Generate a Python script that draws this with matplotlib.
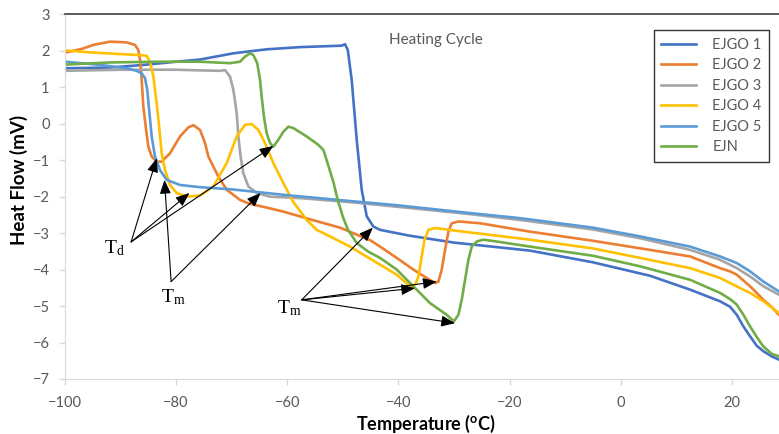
import matplotlib
matplotlib.use("Agg")
from matplotlib import pyplot as plt

plt.rcParams['font.family'] = ['Lato', 'DejaVu Sans']
plt.rcParams['mathtext.fontset'] = 'custom'
plt.rcParams['mathtext.rm'] = 'Liberation Serif'
plt.rcParams['mathtext.it'] = 'Liberation Serif:italic'
plt.rcParams['mathtext.bf'] = 'Lato:bold'

# ---- data (temperature in degC, heat flow in mV) ----
ejgo1_x = [-100, -92, -86, -80, -75.7, -69.7, -63.7, -57.7, -50.2, -49.6, -49.1, -48.4, -47.5,
           -46.6, -45.7, -44.5, -43.3, -38, -30, -16.3, -5, 5.3, 12.5, 17.9, 19.7, 20.9, 22.1,
           23.3, 24.5, 25.7, 27.2, 28.5]
ejgo1_y = [1.52, 1.54, 1.61, 1.70, 1.76, 1.93, 2.04, 2.10, 2.14, 2.18, 2.02, 1.2, -0.44,
           -1.81, -2.54, -2.82, -2.91, -3.07, -3.26, -3.48, -3.80, -4.17, -4.55, -4.87, -5.02, -5.24, -5.56,
           -5.83, -6.09, -6.24, -6.38, -6.47]

ejgo2_x = [-100, -97, -94.9, -91.9, -88.9, -87.4, -86.8, -86.4, -86.2, -85.9, -85.4, -85.0, -84.4,
           -83.5, -82.6, -81.1, -79.3, -77.8, -76.9, -75.7, -74.8, -74.2, -72.4, -70.9, -68.5, -66.7,
           -63.7, -60.7, -55, -50.5, -45, -43.3, -40.3, -37.3, -34.9, -33.4, -32.8, -32.2, -31.6,
           -31.0, -30.4, -29.2, -25.3, -16.3, -5, 5.3, 12.5, 17.9, 19.7, 20.9, 22.1, 23.3, 24.5,
           25.7, 27.2, 28.5]
ejgo2_y = [1.95, 2.05, 2.16, 2.25, 2.23, 2.16, 2.02, 1.66, 1.2, 0.47, -0.17, -0.63, -0.9,
           -1.04, -1.04, -0.81, -0.35, -0.1, -0.04, -0.17, -0.53, -0.9, -1.45, -1.81, -2.09, -2.2,
           -2.3, -2.41, -2.66, -2.85, -3.2, -3.37, -3.68, -4.0, -4.23, -4.37, -4.33, -4.0, -3.46,
           -2.96, -2.73, -2.68, -2.73, -2.96, -3.21, -3.46, -3.64, -3.96, -4.05, -4.14, -4.30, -4.46, -4.64,
           -4.83, -5.03, -5.24]

ejgo3_x = [-100, -90, -80, -75, -72.1, -71.2, -70.3, -69.7, -69.1, -68.8, -68.4, -67.9, -67.0,
           -65.5, -63.1, -57.7, -48.7, -40, -27.1, -18.1, -5, 3.5, 12.5, 17.9, 20.9, 23.3, 25.7, 28.5]
ejgo3_y = [1.45, 1.48, 1.48, 1.46, 1.45, 1.47, 1.29, 0.93, 0.29, -0.35, -0.9, -1.36, -1.72,
           -1.9, -2.0, -2.04, -2.15, -2.28, -2.48, -2.64, -2.90, -3.14, -3.46, -3.73, -3.96, -4.19, -4.46, -4.69]

ejgo4_x = [-100, -94.9, -88.9, -86.2, -85.3, -84.7, -84.1, -83.5, -83.0, -82.6, -82.0, -81.1,
           -79.9, -78.1, -75.7, -73.3, -70.9, -69.1, -67.6, -66.4, -65.2, -64.0, -62.5, -60.7,
           -58.9, -56.5, -54.7, -53.5, -48.7, -42.7, -40.3, -37.9, -37.0, -36.4, -35.8, -35.3,
           -34.6, -33.4, -28.3, -16.3, -5, 3.5, 12.5, 17.9, 20.9, 23.3, 25.7, 28.5]
ejgo4_y = [2.01, 1.95, 1.90, 1.88, 1.86, 1.70, 1.29, 0.56, -0.17, -0.81, -1.27, -1.68,
           -1.90, -2.0, -1.97, -1.72, -1.08, -0.35, -0.03, -0.01, -0.17, -0.53, -1.08, -1.63,
           -2.15, -2.64, -2.91, -3.0, -3.37, -3.92, -4.14, -4.46, -4.42, -4.19, -3.64, -3.18,
           -2.91, -2.86, -2.96, -3.18, -3.42, -3.68, -3.96, -4.23, -4.46, -4.64, -4.87, -5.19]

ejgo5_x = [-100, -94.9, -91.9, -88.9, -87.1, -86.2, -85.6, -85.2, -84.8, -84.4, -83.8, -82.9,
           -81.7, -79.3, -75.7, -70, -60, -48.7, -40, -27.1, -18.1, -5, 3.5, 12.5, 17.9, 20.9,
           23.3, 25.7, 28.5]
ejgo5_y = [1.70, 1.63, 1.58, 1.52, 1.45, 1.38, 1.25, 0.93, 0.29, -0.35, -0.9, -1.27,
           -1.54, -1.68, -1.74, -1.80, -1.96, -2.12, -2.24, -2.45, -2.59, -2.85, -3.09, -3.37,
           -3.64, -3.82, -4.05, -4.33, -4.6]

ejn_x = [-100, -91.9, -82.9, -75.7, -70.3, -68.5, -67.6, -66.7, -66.1, -65.4, -64.9, -64.6,
         -64.2, -63.7, -63.1, -62.5, -61.6, -60.7, -59.8, -58.9, -56.5, -54.4, -53.5, -52.6,
         -51.7, -50.9, -50.0, -49.1, -47.5, -45.5, -43.3, -40.3, -37.3, -34.3, -31.3, -30.0,
         -29.2, -28.6, -28.0, -27.4, -26.8, -25.9, -24.7, -22.3, -16.3, -5, 3.5, 12.5, 17.9,
         19.7, 20.9, 22.1, 23.3, 24.5, 25.7, 27.2, 28.5]
ejn_y = [1.62, 1.68, 1.70, 1.70, 1.66, 1.70, 1.84, 1.93, 1.88, 1.66, 1.2, 0.74,
         0.19, -0.26, -0.53, -0.63, -0.44, -0.22, -0.08, -0.12, -0.35, -0.58, -0.72, -1.15,
         -1.6, -2.1, -2.55, -2.9, -3.27, -3.5, -3.68, -4.0, -4.46, -4.92, -5.24, -5.42,
         -5.24, -4.83, -4.28, -3.73, -3.37, -3.23, -3.18, -3.23, -3.37, -3.62, -3.91, -4.28, -4.64,
         -4.81, -4.96, -5.24, -5.56, -5.85, -6.11, -6.31, -6.38]

series = [
    ("EJGO 1", ejgo1_x, ejgo1_y, "#4472C4"),
    ("EJGO 2", ejgo2_x, ejgo2_y, "#ED7D31"),
    ("EJGO 3", ejgo3_x, ejgo3_y, "#A5A5A5"),
    ("EJGO 4", ejgo4_x, ejgo4_y, "#FFC000"),
    ("EJGO 5", ejgo5_x, ejgo5_y, "#5B9BD5"),
    ("EJN", ejn_x, ejn_y, "#70AD47"),
]

# annotation arrows: label position, arrow origin, arrow targets
td_label_pos = (-91.2, -3.4)
td_origin = (-88.1, -3.24)
td_targets = [(-83.5, -0.95), (-77.6, -1.90), (-62.5, -0.61)]

tm1_label_pos = (-80.6, -4.75)
tm1_origin = (-80.9, -4.33)
tm1_targets = [(-82.1, -1.54), (-64.8, -1.90)]

tm2_label_pos = (-59.6, -5.05)
tm2_origin = (-57.4, -4.83)
tm2_targets = [(-44.6, -2.85), (-33.1, -4.33), (-37.0, -4.51), (-29.8, -5.47)]

x_ticks = [-100, -80, -60, -40, -20, 0, 20]
y_ticks = [-7, -6, -5, -4, -3, -2, -1, 0, 1, 2, 3]

fig = plt.figure(figsize=(7.79, 4.34), dpi=100)
ax = fig.add_axes([65 / 779, 1 - 379 / 434, 714 / 779, 364.7 / 434])

for name, xs, ys, color in series:
    ax.plot(xs, ys, color=color, lw=1.9, label=name, solid_joinstyle="round")

ax.set_xlim(-100, 28.5)
ax.set_ylim(-7, 3)
ax.set_xticks(x_ticks)
ax.set_yticks(y_ticks)

grey_txt = "#595959"
ax.tick_params(axis="both", direction="out", color="#d9d9d9", labelcolor=grey_txt,
               labelsize=10.5, length=4, width=1)
ax.tick_params(axis="x", pad=8)
ax.tick_params(axis="y", pad=7)

for side in ["left", "bottom"]:
    ax.spines[side].set_color("#d9d9d9")
ax.spines["right"].set_visible(False)
ax.spines["top"].set_color("#404040")
ax.spines["top"].set_linewidth(1.2)

ax.set_xlabel(r"Temperature ($^\mathbf{o}$C)", fontsize=13, fontweight="bold")
ax.set_ylabel("Heat Flow (mV)", fontsize=13.5, fontweight="bold")
ax.xaxis.set_label_coords(0.506, -0.093)
ax.yaxis.set_label_coords(-0.052, 0.545)

ax.text(-41.7, 2.3, "Heating Cycle", color=grey_txt, fontsize=11, ha="left", va="center")

arrow_kw = dict(arrowstyle="-|>,head_length=0.7,head_width=0.28", color="black", lw=0.8,
                shrinkA=0, shrinkB=0, mutation_scale=12)


def draw_group(label, label_pos, origin, targets):
    for tx, ty in targets:
        ax.annotate("", xy=(tx, ty), xytext=origin, arrowprops=arrow_kw)
    ax.text(label_pos[0], label_pos[1], label, fontsize=14, ha="center", va="center")


draw_group(r"$\mathrm{T_d}$", td_label_pos, td_origin, td_targets)
draw_group(r"$\mathrm{T_m}$", tm1_label_pos, tm1_origin, tm1_targets)
draw_group(r"$\mathrm{T_m}$", tm2_label_pos, tm2_origin, tm2_targets)

leg = ax.legend(loc="upper right", bbox_to_anchor=(0.986, 0.956), fontsize=10.5,
                frameon=True, fancybox=False, handlelength=2.4, handletextpad=1.1,
                labelspacing=0.45, borderpad=0.5, borderaxespad=0)
leg.get_frame().set_edgecolor("black")
leg.get_frame().set_linewidth(1.0)
for t in leg.get_texts():
    t.set_color(grey_txt)

fig.savefig("out.png", dpi=100)
